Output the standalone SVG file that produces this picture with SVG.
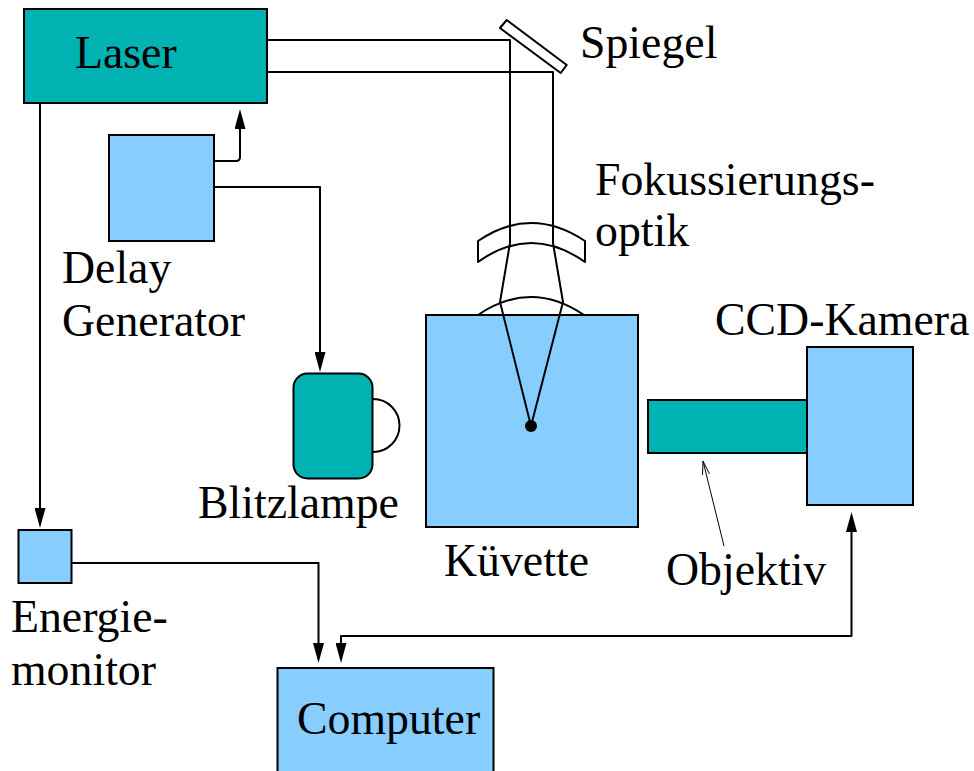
<svg xmlns="http://www.w3.org/2000/svg" width="974" height="771" viewBox="0 0 974 771">
<style>
.b{fill:#87ceff;stroke:#000;stroke-width:2}
.t{fill:#00b2b2;stroke:#000;stroke-width:2}
.o{fill:none;stroke:#000;stroke-width:2;stroke-linejoin:round}
.l{fill:none;stroke:#000;stroke-width:2;stroke-linejoin:round}
text{font-family:"Liberation Serif","Times New Roman",serif;font-size:45.8px;fill:#000}
</style>
<defs>
<marker id="a" markerUnits="userSpaceOnUse" markerWidth="20" markerHeight="11" refX="10" refY="5.500" orient="auto-start-reverse" viewBox="0 0 20 11"><path d="M0 0L20 5.500L0 11z" fill="#000"/></marker>
</defs>
<rect width="974" height="771" fill="#fff"/>
<g id="lens-lower"><path class="o" d="M478 315Q531 279 584 315"/></g>
<g id="laser"><rect class="t" x="24" y="9" width="243" height="94"/><text x="75" y="68">Laser</text></g>
<g id="delay-generator"><rect class="b" x="109" y="135" width="105" height="106"/><text x="62" y="283">Delay</text><text x="62" y="336">Generator</text></g>
<g id="spiegel"><path class="o" d="M506.700 20L500 28L560.700 73L566.700 65z" fill="#fff"/><text x="580" y="58">Spiegel</text></g>
<g id="fokussierungsoptik"><path class="o" d="M478 241Q531 205 585 241V262Q531 224 478 262z"/><text x="595" y="195">Fokussierungs-</text><text x="595" y="246">optik</text></g>
<g id="kuevette"><rect class="b" x="426" y="315" width="212" height="212"/><circle cx="531" cy="426" r="6" fill="#000"/><text x="444" y="576">Küvette</text></g>
<g id="blitzlampe"><path class="o" d="M373 399A26.500 26.500 0 0 1 373 452"/><rect class="t" x="293.500" y="373.500" width="79" height="105" rx="14"/><text x="198" y="518">Blitzlampe</text></g>
<g id="objektiv"><rect class="t" x="648" y="400" width="159" height="53"/><text x="666" y="585">Objektiv</text></g>
<g id="ccd-kamera"><rect class="b" x="807" y="347" width="106" height="158"/><text x="715" y="335">CCD-Kamera</text></g>
<g id="energiemonitor"><rect class="b" x="18.500" y="530" width="53" height="53"/><text x="11" y="632">Energie-</text><text x="11" y="685">monitor</text></g>
<g id="computer"><rect class="b" x="277.500" y="668" width="216" height="110"/><text x="297" y="734">Computer</text></g>
<g id="connectors">
<path class="l" d="M267 40H510V243L500 302L531 426L563 302L553 243V72H267"/>
<path class="l" d="M214 161H236Q240 161 240 157V119" marker-end="url(#a)"/>
<path class="l" d="M214 187H320V362" marker-end="url(#a)"/>
<path class="l" d="M40 103V518" marker-end="url(#a)"/>
<path class="l" d="M72 563H318.500V653" marker-end="url(#a)"/>
<path class="l" d="M341 653V636H851.500V522" marker-start="url(#a)" marker-end="url(#a)"/>
<path d="M724 546L703 461" fill="none" stroke="#000" stroke-width="1"/>
<path d="M703 461L702.500 475M703 461L709.500 474" fill="none" stroke="#000" stroke-width="1"/>
</g>
</svg>
